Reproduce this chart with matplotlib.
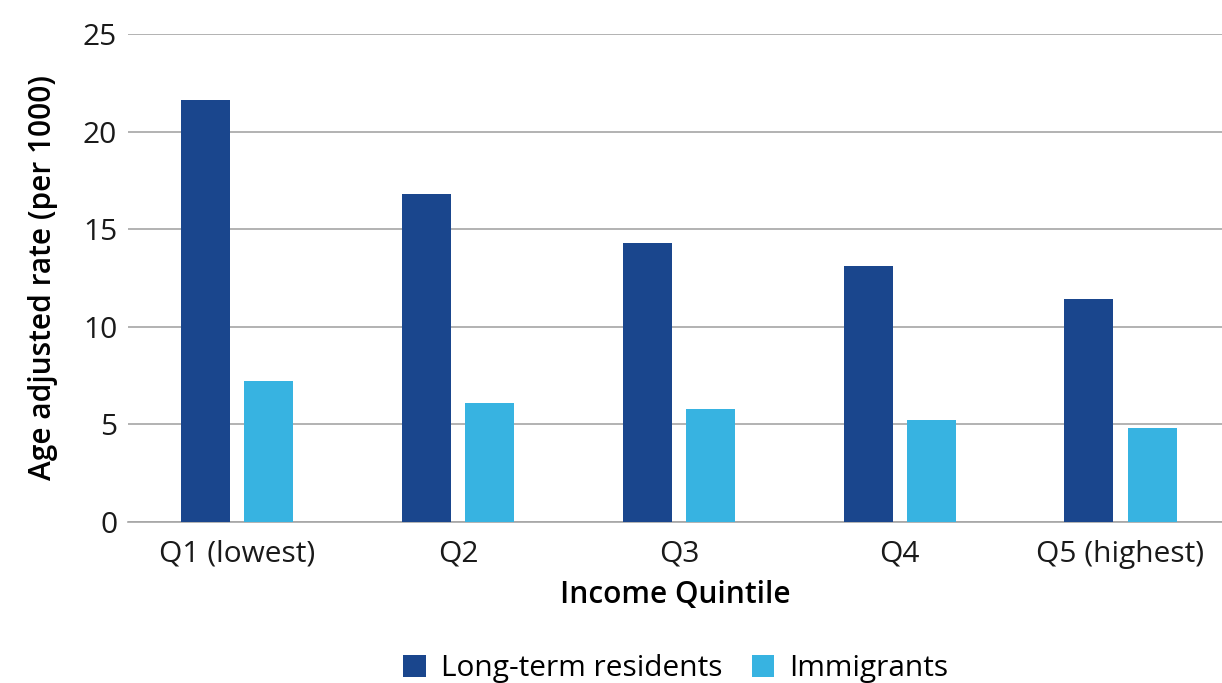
import numpy as np
import matplotlib
matplotlib.use("Agg")
import matplotlib.pyplot as plt

# Datos
quintiles = ["Q1 (lowest)", "Q2", "Q3", "Q4", "Q5 (highest)"]
long_term = [21.6, 16.8, 14.3, 13.1, 11.4]
immigrants = [7.2, 6.1, 5.8, 5.2, 4.8]

plt.rcParams['font.family'] = ['Open Sans', 'DejaVu Sans']

fig = plt.figure(figsize=(12.22, 6.83), dpi=100)
ax = fig.add_axes([0.105, 0.236, 0.895, 0.714])

x = np.arange(len(quintiles))
w = 0.222
off = 0.143
ax.bar(x - off, long_term, w, color='#1a468d', label='Long-term residents', zorder=3)
ax.bar(x + off, immigrants, w, color='#37b3e1', label='Immigrants', zorder=3)

ax.set_xlim(-0.494, 4.46)
ax.set_ylim(0, 25)
ax.set_yticks([0, 5, 10, 15, 20, 25])
ax.set_xticks(x)
ax.set_xticklabels(quintiles)
ax.tick_params(axis='both', length=0, labelsize=21.5, colors='#1a1a1a')
ax.tick_params(axis='x', pad=13)
ax.tick_params(axis='y', pad=8)
ax.grid(axis='y', color='#a6a6a6', linewidth=1.2, zorder=0)
for s in ['top', 'right', 'left']:
    ax.spines[s].set_visible(False)
ax.spines['bottom'].set_color('#a6a6a6')
ax.spines['bottom'].set_linewidth(1.2)

ax.set_xlabel('Income Quintile', fontsize=21.5, fontweight='semibold', labelpad=8)
ax.set_ylabel('Age adjusted rate (per 1000)', fontsize=21.5, fontweight='semibold', labelpad=18)

fig.legend(loc='lower center', bbox_to_anchor=(0.553, -0.04), ncol=2, frameon=False,
           fontsize=21.5, handlelength=0.75, handleheight=0.75, handletextpad=0.5, columnspacing=1.0)

fig.savefig('out.png', dpi=100)
